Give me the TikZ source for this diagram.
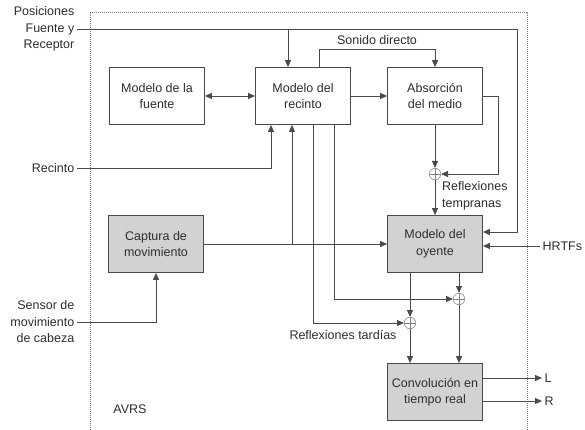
\documentclass[tikz,border=0pt]{standalone}
\usepackage{fontspec}
\setmainfont{Liberation Sans}
\usetikzlibrary{arrows.meta,calc}
\definecolor{ln}{HTML}{4A4A4A}
\definecolor{tx}{HTML}{2E2E2E}
\definecolor{bx}{HTML}{D2D2D2}
\begin{document}
\begin{tikzpicture}[x=1pt,y=-1pt,
  every node/.style={font=\fontsize{12.5}{16.5}\selectfont,text=tx,inner sep=0pt},
  blk/.style={draw=ln,line width=0.8pt,minimum width=95pt,minimum height=57pt,align=center},
  gblk/.style={blk,fill=bx},
  lbl/.style={align=right,anchor=east,inner xsep=2.5pt},
  rlbl/.style={anchor=west,inner xsep=2.5pt},
  wire/.style={draw=ln,line width=0.8pt},
  arr/.style={wire,-{Triangle[length=7pt,width=6pt]}},
  arrb/.style={wire,{Triangle[length=7pt,width=6pt]}-{Triangle[length=7pt,width=6pt]}},
  sum/.style={circle,draw=gray,line width=0.5pt,minimum size=11.5pt,
    path picture={\draw[gray,line width=0.5pt] (path picture bounding box.north) -- (path picture bounding box.south)
      (path picture bounding box.west) -- (path picture bounding box.east);}}
]
\useasboundingbox (0,0) rectangle (585,430);
\fill[white] (0,0) rectangle (585,430);
% frame
\draw[gray,line width=0.6pt,dash pattern=on 1pt off 1pt] (90,432) -- (90,12) -- (527,12) -- (527,432);

% blocks
\node[blk] (fuente) at (157,96) {Modelo de la\\fuente};
\node[blk] (recinto) at (303,96) {Modelo del\\recinto};
\node[blk] (absor) at (435,96) {Absorción\\del medio};
\node[gblk] (oyente) at (435,244) {Modelo del\\oyente};
\node[gblk] (captura) at (156,244) {Captura de\\movimiento};
\node[gblk] (conv) at (435,392) {Convolución en\\tiempo real};

% sums
\node[sum] (c1) at (435,174) {};
\node[sum] (c2) at (459,299) {};
\node[sum] (c3) at (410,323) {};

% external labels
\node[lbl] (pos) at (77,29) {Posiciones\\Fuente y\\Receptor};
\node[lbl] (recl) at (77,168) {Recinto};
\node[lbl] (sensor) at (77,322) {Sensor de\\movimiento\\de cabeza};
\node[rlbl] (hrtf) at (540,246) {HRTFs};
\node[rlbl] (L) at (542,378) {L};
\node[rlbl] (R) at (542,401) {R};
\node (avrs) at (130,409) {AVRS};
\node (tard) at (343,335) {Reflexiones tardías};
\node[anchor=west,align=left] (temp) at (442,196) {Reflexiones\\tempranas};

% coordinates
\coordinate (k1) at (517,29);
\coordinate (k2) at (517,232);
\coordinate (j1) at (288,29);
\coordinate (sd1) at (319,49);
\coordinate (sd2) at (435,49);
\coordinate (ab1) at (498,96);
\coordinate (ab2) at (498,174);
\coordinate (rx) at (271,168);
\coordinate (mx) at (292,244);
\coordinate (t1) at (313,323);
\coordinate (t2) at (334,299);
\coordinate (o1) at (410,0);
\coordinate (o2) at (459,0);

% connectors
\draw[arr] (pos.east) -- (k1) -- (k2) -- (oyente.east |- k2);
\draw[arr] (j1) -- (j1 |- recinto.north);
\draw[arrb] (fuente.east) -- (recinto.west);
\draw[arr] (recinto.east) -- (absor.west);
\draw[arr] (sd1 |- recinto.north) -- (sd1) -- (sd2) -- (absor.north);
\node[anchor=south] (sdl) at ($(sd1)!0.5!(sd2)+(0,-4)$) {Sonido directo};
\draw[arr] (absor.east |- ab1) -- (ab1) -- (ab2) -- (c1.east);
\draw[arr] (absor.south) -- (c1.north);
\draw[arr] (c1.south) -- (oyente.north);
\draw[arr] (recl.east) -- (rx) -- (rx |- recinto.south);
\draw[arr] (captura.east) -- (oyente.west);
\draw[arr] (mx) -- (mx |- recinto.south);
\draw[arr] (sensor.east) -| (captura.south);
\draw[arr] (hrtf.west) -- (oyente.east |- hrtf.west);
\draw[arr] (t1 |- recinto.south) -- (t1) -- (c3.west);
\draw[arr] (t2 |- recinto.south) -- (t2) -- (c2.west);
\draw[arr] (o1 |- oyente.south) -- (c3.north);
\draw[arr] (o2 |- oyente.south) -- (c2.north);
\draw[arr] (c3.south) -- (o1 |- conv.north);
\draw[arr] (c2.south) -- (o2 |- conv.north);
\draw[arr] (conv.east |- L.west) -- (L.west);
\draw[arr] (conv.east |- R.west) -- (R.west);
\end{tikzpicture}
\end{document}
